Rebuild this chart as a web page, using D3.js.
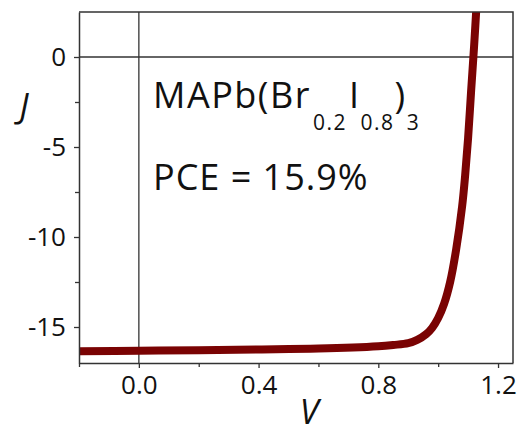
<!DOCTYPE html>
<html>
<head>
<meta charset="utf-8">
<script src="https://cdn.jsdelivr.net/npm/d3@7"></script>
<style>
  body { margin: 0; background: #fff; }
  svg text { font-family: "Open Sans", "Noto Sans", sans-serif; fill: #111; }
</style>
</head>
<body>
<svg id="chart" width="522" height="438"></svg>
<script>
// J-V curve
const voltage = [-0.2, 0, 0.2, 0.4, 0.6, 0.8, 0.85, 0.9, 0.93, 0.96, 0.98, 1.0, 1.02, 1.04, 1.06, 1.08, 1.09, 1.10, 1.11, 1.12, 1.13];
const current = [-16.35, -16.32, -16.29, -16.25, -16.2, -16.07, -16.0, -15.9, -15.72, -15.4, -15.05, -14.5, -13.7, -12.5, -10.7, -8.3, -6.6, -4.5, -1.9, 0.6, 3.4];

const xMajor = [0.0, 0.4, 0.8, 1.2];
const xMinor = [-0.2, 0.2, 0.6, 1.0];
const yMajor = [0, -5, -10, -15];
const yMinor = [-2.5, -7.5, -12.5];

const margin = { left: 79, right: 9, top: 12, bottom: 75 };
const width = 522, height = 438;

const svg = d3.select("#chart");

const x = d3.scaleLinear().domain([-0.2, 1.25]).range([margin.left, width - margin.right]);
const y = d3.scaleLinear().domain([-17, 2.5]).range([height - margin.bottom, margin.top]);

const axisColor = "#333";

// clip for the curve
svg.append("clipPath").attr("id", "plotClip")
  .append("rect")
  .attr("x", x.range()[0]).attr("y", y.range()[1])
  .attr("width", x.range()[1] - x.range()[0])
  .attr("height", y.range()[0] - y.range()[1]);

// zero lines
svg.append("line")
  .attr("x1", x.range()[0]).attr("x2", x.range()[1])
  .attr("y1", y(0)).attr("y2", y(0))
  .attr("stroke", axisColor).attr("stroke-width", 1.3);
svg.append("line")
  .attr("x1", x(0)).attr("x2", x(0))
  .attr("y1", y.range()[0]).attr("y2", y.range()[1])
  .attr("stroke", axisColor).attr("stroke-width", 1.3);

// curve
const points = voltage.map((v, i) => [v, current[i]]);
const line = d3.line()
  .x(d => x(d[0]))
  .y(d => y(d[1]))
  .curve(d3.curveCatmullRom.alpha(0.5));

svg.append("path")
  .datum(points)
  .attr("clip-path", "url(#plotClip)")
  .attr("d", line)
  .attr("fill", "none")
  .attr("stroke", "#7a0303")
  .attr("stroke-width", 8)
  .attr("stroke-linejoin", "round");

// axes (hyphen minus, like the original)
const hyphen = d => String(d).replace("\u2212", "-");

svg.append("g")
  .attr("transform", `translate(0,${y.range()[0]})`)
  .call(d3.axisBottom(x).tickValues(xMajor).tickFormat(d3.format(".1f")).tickSize(5).tickPadding(8).tickSizeOuter(0));
svg.append("g")
  .attr("transform", `translate(0,${y.range()[0]})`)
  .call(d3.axisBottom(x).tickValues(xMinor).tickFormat("").tickSize(4).tickSizeOuter(0))
  .call(g => g.select(".domain").remove());

svg.append("g")
  .attr("transform", `translate(${x.range()[0]},0)`)
  .call(d3.axisLeft(y).tickValues(yMajor).tickFormat(d => hyphen(d)).tickSize(5).tickPadding(8).tickSizeOuter(0));
svg.append("g")
  .attr("transform", `translate(${x.range()[0]},0)`)
  .call(d3.axisLeft(y).tickValues(yMinor).tickFormat("").tickSize(4).tickSizeOuter(0))
  .call(g => g.select(".domain").remove());

svg.selectAll(".tick line").attr("stroke", axisColor).attr("stroke-width", 1.3);
svg.selectAll(".domain").attr("stroke", axisColor).attr("stroke-width", 1.5);
svg.selectAll(".tick text")
  .attr("font-family", "'Open Sans', sans-serif")
  .attr("font-size", 26)
  .attr("fill", "#111");

// top and right frame
svg.append("path")
  .attr("d", `M${x.range()[0]},${y.range()[1]}H${x.range()[1]}V${y.range()[0]}`)
  .attr("fill", "none")
  .attr("stroke", axisColor)
  .attr("stroke-width", 1.5);

// axis titles
svg.append("text")
  .attr("x", 24).attr("y", 118)
  .attr("text-anchor", "middle")
  .attr("font-size", 34).attr("font-style", "italic")
  .text("J");
svg.append("text")
  .attr("x", 309).attr("y", 424)
  .attr("text-anchor", "middle")
  .attr("font-size", 34).attr("font-style", "italic")
  .text("V");

// annotation
const formula = svg.append("text")
  .attr("x", 153).attr("y", 108)
  .attr("font-size", 36)
  .attr("letter-spacing", 1.5);
formula.append("tspan").text("MAPb(Br");
formula.append("tspan").attr("font-size", 21).attr("dy", 22).attr("dx", 2).text("0.2");
formula.append("tspan").attr("dy", -22).attr("dx", 2).text("I");
formula.append("tspan").attr("font-size", 21).attr("dy", 22).text("0.8");
formula.append("tspan").attr("dy", -22).text(")");
formula.append("tspan").attr("font-size", 21).attr("dy", 22).text("3");

svg.append("text")
  .attr("x", 153).attr("y", 190)
  .attr("font-size", 36)
  .attr("letter-spacing", 1)
  .text("PCE = 15.9%");
</script>
</body>
</html>
